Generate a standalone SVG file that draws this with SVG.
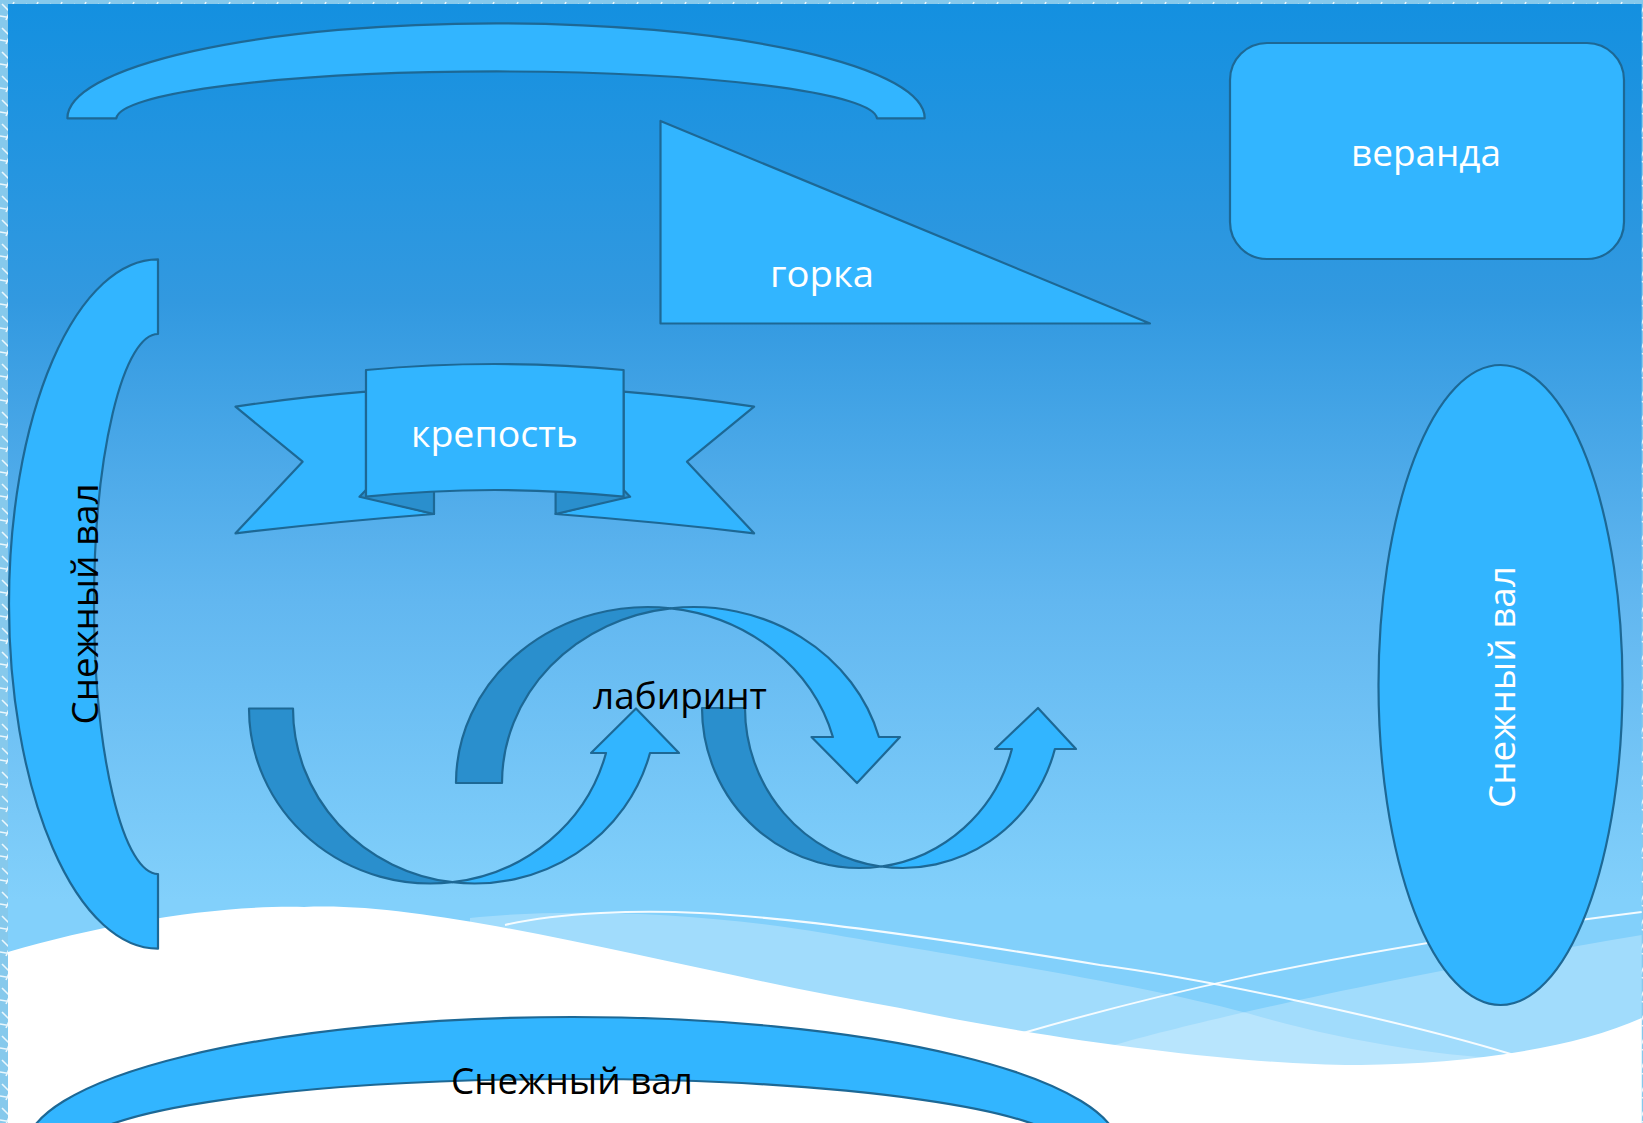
<svg xmlns="http://www.w3.org/2000/svg" width="1643" height="1123" viewBox="0 0 1643 1123">
<style>
.shape{fill:#32b5ff;stroke:#1d6895;stroke-width:2.2;stroke-linejoin:round}
.back{fill:#2a8fcd;stroke:#1d6895;stroke-width:2.2;stroke-linejoin:round}
.lbl{font-family:"Open Sans","Noto Sans","DejaVu Sans",sans-serif;font-size:37px;text-anchor:middle}
.w{fill:#ffffff}
.k{fill:#000000}
.wline{fill:none;stroke:#ffffff;stroke-width:2;opacity:0.9}
</style>
<defs>
<linearGradient id="sky" x1="0" y1="4" x2="0" y2="1000" gradientUnits="userSpaceOnUse">
<stop offset="0" stop-color="#1490e0"/>
<stop offset="0.3" stop-color="#3299e0"/>
<stop offset="0.6" stop-color="#62b7f0"/>
<stop offset="0.9" stop-color="#82d0fb"/>
</linearGradient>
<pattern id="frost" width="24" height="24" patternUnits="userSpaceOnUse">
<rect width="24" height="24" fill="#86c9ec"/>
<path d="M2,4 L10,12 M14,2 L6,20 M18,8 L22,22 M0,16 L12,18" stroke="#eaf7fd" stroke-width="1.6" fill="none"/>
</pattern>
</defs>
<g id="background">
<rect x="0" y="0" width="1643" height="1123" fill="url(#frost)"/>
<rect x="8" y="4" width="1633.7" height="1119" fill="url(#sky)"/>
<path d="M470,918 C560,908 700,912 824,933 C950,955 1150,985 1261,1017 C1350,1042 1450,1058 1530,1060 L1530,1123 L470,1123 Z" fill="#ffffff" opacity="0.25"/>
<path d="M1100,1123 L1107,1047 C1200,1020 1400,975 1641.7,935 L1641.7,1123 Z" fill="#ffffff" opacity="0.25"/>
<path class="wline" d="M505,925 C560,912 640,910 700,913 C800,918 950,940 1100,965 C1200,978 1400,1020 1514,1055"/>
<path class="wline" d="M1023,1033 C1120,1005 1300,955 1641.7,912"/>
<path d="M8,952 C110,922 220,905 304,907 C440,900 680,970 900,1008 C1050,1040 1250,1066 1361,1065 C1460,1064 1570,1050 1641.7,1018 L1641.7,1123 L8,1123 Z" fill="#ffffff"/>
</g>
<g id="node-top-arc">
<path class="shape" d="M67.4,118.3 A428.6,95 0 0 1 924.7,118.3 L877,118.3 A380.4,47.6 0 0 0 116.3,118.3 Z"/>
</g>
<g id="node-gorka">
<path class="shape" d="M660.5,121 L660.5,323.5 L1150,323.5 Z"/>
<text class="lbl w" x="822" y="287" textLength="104" lengthAdjust="spacingAndGlyphs">горка</text>
</g>
<g id="node-veranda">
<rect class="shape" x="1230" y="43" width="394" height="216" rx="37" ry="37"/>
<text class="lbl w" x="1426" y="166" textLength="150" lengthAdjust="spacingAndGlyphs">веранда</text>
</g>
<g id="node-left-wall">
<path class="shape" d="M158,259.3 A149,344.7 0 0 0 158,948.7 L158,874 A64,270 0 0 1 158,334 Z"/>
<text class="lbl k" transform="translate(98,604) rotate(-90)" x="0" y="0" textLength="241" lengthAdjust="spacingAndGlyphs">Снежный вал</text>
</g>
<g id="node-krepost">
<path class="shape" d="M235.5,406.7 Q300,397 366,391.7 L366,497 L434,514 Q330,522 235.5,533.3 L302.6,461.7 Z"/>
<path class="shape" d="M754.1,406.7 Q689.6,397 623.6,391.7 L623.6,497 L555.6,514 Q659.6,522 754.1,533.3 L687,461.7 Z"/>
<path class="back" d="M359.5,496.7 L434,514 L434,488 L366,490 Z"/>
<path class="back" d="M630.1,496.7 L555.6,514 L555.6,488 L623.6,490 Z"/>
<path class="shape" d="M366,370 Q494.8,358 623.6,370 L623.6,496.7 Q494.8,483.3 366,496.7 Z"/>
<text class="lbl w" x="494.5" y="446.5" textLength="167" lengthAdjust="spacingAndGlyphs">крепость</text>
</g>
<g id="node-right-wall">
<ellipse class="shape" cx="1500.5" cy="685" rx="122" ry="320"/>
<text class="lbl w" transform="translate(1515,687) rotate(-90)" x="0" y="0" textLength="242" lengthAdjust="spacingAndGlyphs">Снежный вал</text>
</g>
<g id="node-labyrinth">
<path class="back" d="M249,708.5 A181.5,175 0 0 0 452.5,882.2 A181.5,175 0 0 1 293,708.5 Z"/>
<path class="shape" d="M452.5,882.2 A181.5,175 0 0 0 606,753 L591,753 L636,708.5 L679,753 L650,753 A181.5,175 0 0 1 452.5,882.2 Z"/>
<path class="back" d="M456,783 A191.8,176 0 0 1 670.8,608.3 A191.8,176 0 0 0 502,783 Z"/>
<path class="shape" d="M670.8,608.3 A191.8,176 0 0 1 832.9,737 L811.5,737 L857,783 L900,737 L878.9,737 A191.8,176 0 0 0 670.8,608.3 Z"/>
<path class="back" d="M702,708 A157.6,160 0 0 0 881.1,866.5 A157.6,160 0 0 1 745,708 Z"/>
<path class="shape" d="M881.1,866.5 A157.6,160 0 0 0 1011.9,749 L995,749 L1038,708 L1076,749 L1054.9,749 A157.6,160 0 0 1 881.1,866.5 Z"/>
<text class="lbl k" x="680" y="709" textLength="174" lengthAdjust="spacingAndGlyphs">лабиринт</text>
</g>
<g id="node-bottom-wall">
<path class="shape" d="M25.5,1150 A547,133 0 0 1 1119.5,1150 L1067.5,1150 A495,71 0 0 0 77.5,1150 Z"/>
<text class="lbl k" x="572" y="1094" textLength="242" lengthAdjust="spacingAndGlyphs">Снежный вал</text>
</g>
<g id="connectors"/>
</svg>
